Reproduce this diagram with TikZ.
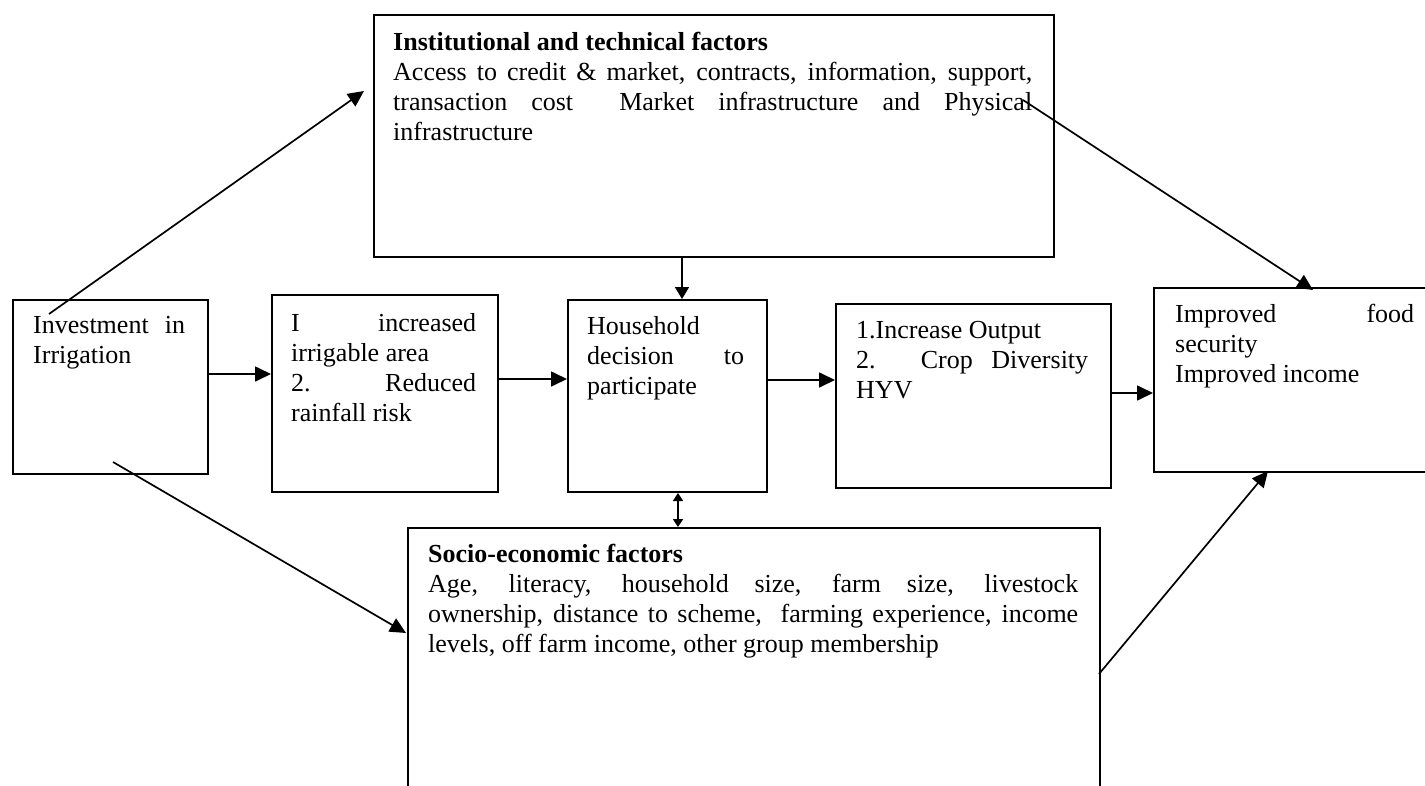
\documentclass[tikz,border=0pt]{standalone}
\usepackage{fontspec}
\setmainfont{Liberation Serif}
\usetikzlibrary{arrows.meta}
\newcommand{\jl}[2]{\makebox[#1pt][s]{#2}}
\begin{document}
\begin{tikzpicture}[x=1pt,y=-1pt,
  boxnode/.style={draw, line width=2pt, anchor=north west, inner sep=0pt},
  txt/.style={anchor=base west, inner sep=0pt, align=left, font=\fontsize{26}{30}\selectfont},
  conn/.style={line width=1.7pt, -{Triangle[length=16pt,width=15pt]}},
  sconn/.style={line width=1.7pt, -{Triangle[length=12pt,width=14pt]}},
  dconn/.style={line width=1.7pt, {Triangle[length=8pt,width=10pt]}-{Triangle[length=8pt,width=10pt]}},
]
\clip (0,0) rectangle (1425,785);
\fill[white] (0,0) rectangle (1425,785);

% boxes
\node[boxnode, minimum width=680pt, minimum height=242pt] (top) at (373,14) {};
\node[boxnode, minimum width=195pt, minimum height=174pt] (inv) at (12,299) {};
\node[boxnode, minimum width=226pt, minimum height=197pt] (irr) at (271,294) {};
\node[boxnode, minimum width=199pt, minimum height=192pt] (hh) at (567,299) {};
\node[boxnode, minimum width=275pt, minimum height=184pt] (out) at (835,303) {};
\node[boxnode, minimum width=300pt, minimum height=184pt] (imp) at (1153,287) {};
\node[boxnode, minimum width=692pt, minimum height=300pt] (soc) at (407,527) {};

% texts (anchored at the baseline of their last line)
\node[txt] (topT) at (393,140) {\textbf{Institutional and technical factors}\\
\jl{639}{Access to credit \& market, contracts, information, support,}\\
\jl{639}{transaction cost\hspace{22pt} Market infrastructure and Physical}\\
infrastructure};
\node[txt] (invT) at (33,363) {\jl{152}{Investment in}\\ Irrigation};
\node[txt] (irrT) at (291,421) {\jl{185}{I increased}\\ irrigable area\\ \jl{185}{2. Reduced}\\ rainfall risk};
\node[txt] (hhT) at (587,394) {Household\\ \jl{157}{decision to}\\ participate};
\node[txt] (outT) at (856,398) {1.Increase Output\\ \jl{232}{2. Crop Diversity}\\ HYV};
\node[txt] (impT) at (1175,382) {\jl{239}{Improved food}\\ security\\ Improved income};
\node[txt] (socT) at (428,652) {\textbf{Socio-economic factors}\\
\jl{650}{Age, literacy, household size, farm size, livestock}\\
\jl{650}{ownership, distance to scheme,\ \ farming experience, income}\\
levels, off farm income, other group membership};

% helper coordinates
\coordinate (y1) at (0,374);
\coordinate (y2) at (0,379);
\coordinate (y3) at (0,380);
\coordinate (y4) at (0,393);
\coordinate (x1) at (682,0);
\coordinate (x2) at (678,0);
\coordinate (a1s) at (49,314);
\coordinate (a1t) at (364,91);
\coordinate (a2s) at (113,462);
\coordinate (a2t) at (406,633);
\coordinate (a3s) at (1023,100);
\coordinate (a3t) at (1313,290);
\coordinate (a4s) at (1099,674);
\coordinate (a4t) at (1268,471);

% connectors
\draw[conn] (inv.east |- y1) -- (irr.west |- y1);
\draw[conn] (irr.east |- y2) -- (hh.west |- y2);
\draw[conn] (hh.east |- y3) -- (out.west |- y3);
\draw[conn] (out.east |- y4) -- (imp.west |- y4);
\draw[sconn] (top.south -| x1) -- (hh.north -| x1);
\draw[dconn] (hh.south -| x2) -- (soc.north -| x2);
\draw[conn] (a1s) -- (a1t);
\draw[conn] (a2s) -- (a2t);
\draw[conn] (a3s) -- (a3t);
\draw[conn] (a4s) -- (a4t);
\end{tikzpicture}
\end{document}
